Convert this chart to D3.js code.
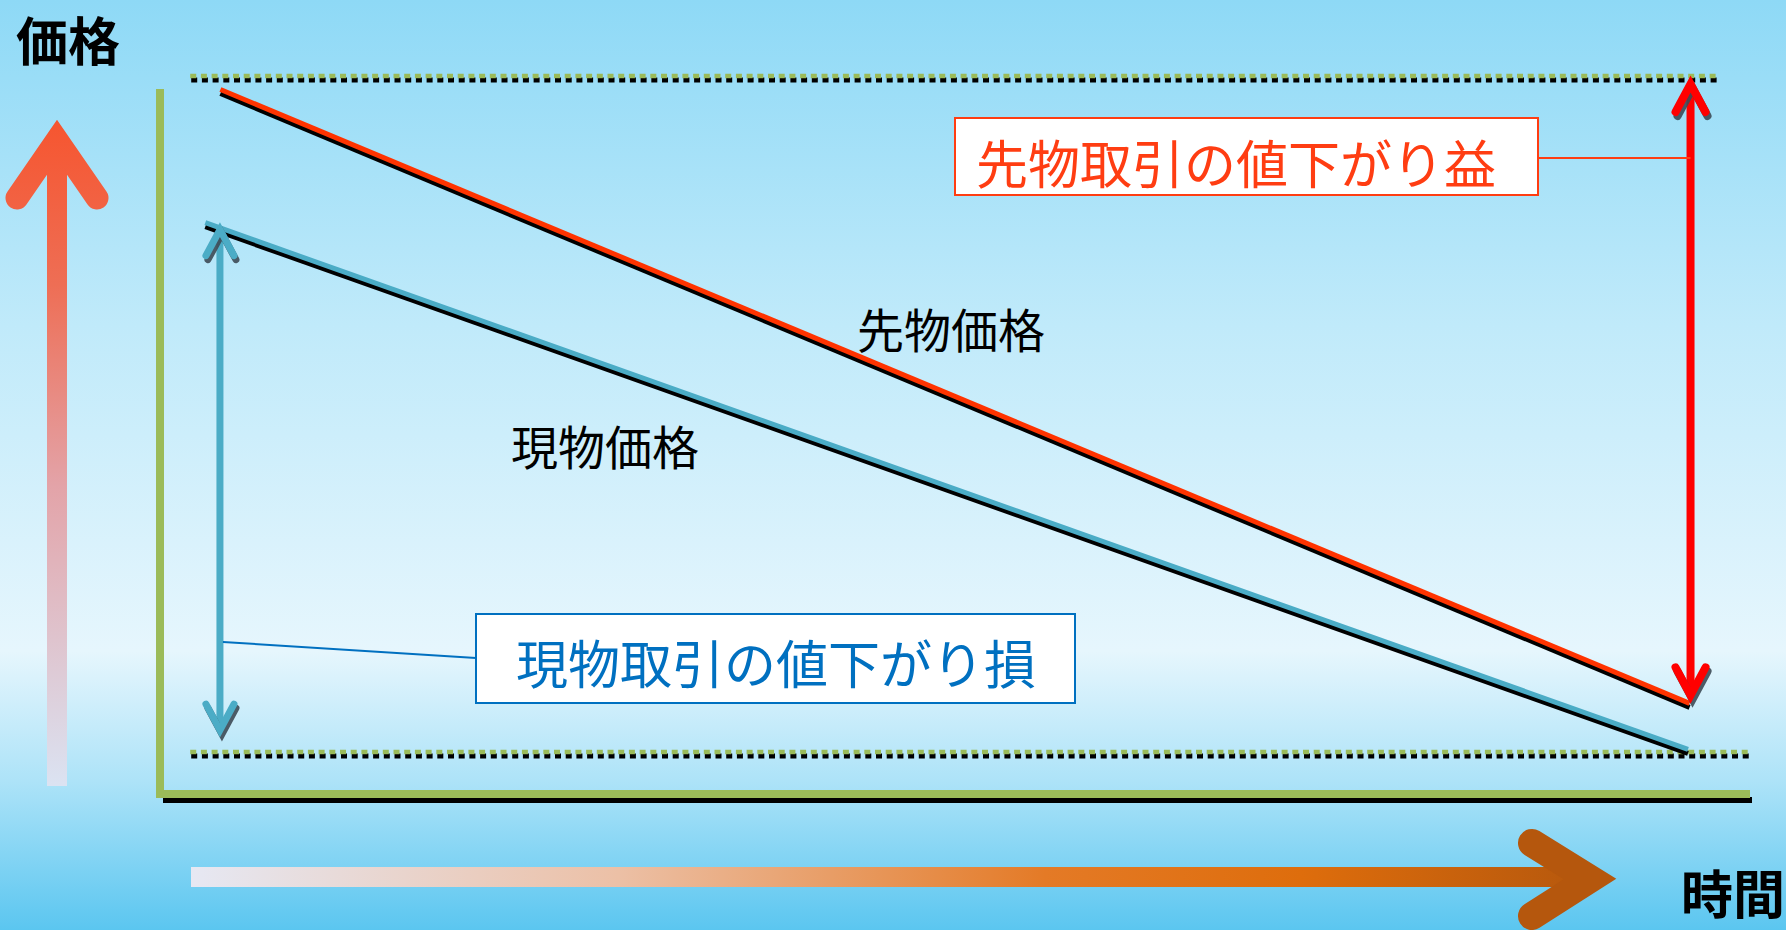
<!DOCTYPE html>
<html>
<head>
<meta charset="utf-8">
<script src="https://cdn.jsdelivr.net/npm/d3@7"></script>
<style>
  body { margin: 0; overflow: hidden; }
  svg { display: block; font-family: "Noto Sans CJK JP", "Noto Sans", sans-serif; }
</style>
</head>
<body>
<div id="chart"></div>
<script>
// time runs 0..100, price 0..100 (0 = bottom dotted level, 100 = top dotted level)
const futuresTimes = [3.8, 96.2];
const futuresPrices = [98, 7.2];
const spotTimes = [2.85, 96.1];
const spotPrices = [78.3, 0.4];

const levelPrices = [100, 0];            // dotted reference levels
const levelTimeSpans = [[1.9, 98.1], [1.9, 100]];

const gainArrowTime = 96.26;
const gainArrowSpan = [100, 7.2];        // futures gain: top level -> futures end
const lossArrowTime = 3.77;
const lossArrowSpan = [78.3, 2.2];       // spot loss: spot start -> bottom

const axisTitles = ["価格", "時間"];
const lineLabels = ["先物価格", "現物価格"];
const calloutLabels = ["先物取引の値下がり益", "現物取引の値下がり損"];

const W = 1786, H = 930;

const svg = d3.select("#chart")
  .append("svg")
    .attr("width", W)
    .attr("height", H);

const x = d3.scaleLinear().domain([0, 100]).range([160, 1750]);
const y = d3.scaleLinear().domain([0, 100]).range([752, 76]);

const defs = svg.append("defs");

// background
const bg = defs.append("linearGradient").attr("id", "bg")
  .attr("x1", 0).attr("y1", 0).attr("x2", 0).attr("y2", 1);
[[0, "#8ed9f6"], [0.35, "#c0eafa"], [0.7, "#e6f6fd"], [0.84, "#ade3f8"], [1, "#5bc6f0"]]
  .forEach(s => bg.append("stop").attr("offset", s[0]).attr("stop-color", s[1]));
svg.append("rect").attr("width", W).attr("height", H).attr("fill", "url(#bg)");

// price (vertical) arrow gradient
const vg = defs.append("linearGradient").attr("id", "vgrad")
  .attr("gradientUnits", "userSpaceOnUse")
  .attr("x1", 0).attr("y1", 118).attr("x2", 0).attr("y2", 786);
[[0, "#f6552f"], [0.25, "#ee6e55"], [0.55, "#e3a3a8"], [1, "#dbe3f2"]]
  .forEach(s => vg.append("stop").attr("offset", s[0]).attr("stop-color", s[1]));

// time (horizontal) arrow gradient
const hg = defs.append("linearGradient").attr("id", "hgrad")
  .attr("gradientUnits", "userSpaceOnUse")
  .attr("x1", 191).attr("y1", 0).attr("x2", 1615).attr("y2", 0);
[[0, "#e6e8f3"], [0.3, "#ecc0a6"], [0.6, "#e47a26"], [0.78, "#de6d0c"], [1, "#b2560d"]]
  .forEach(s => hg.append("stop").attr("offset", s[0]).attr("stop-color", s[1]));

// big decorative axis arrows
const deco = svg.append("g");
deco.append("line")
  .attr("x1", 57).attr("x2", 57).attr("y1", 786).attr("y2", 150)
  .attr("stroke", "url(#vgrad)").attr("stroke-width", 20);
deco.append("path")
  .attr("d", "M17,198 L57,140 L97,198")
  .attr("fill", "none").attr("stroke", "url(#vgrad)").attr("stroke-width", 23)
  .attr("stroke-linecap", "round").attr("stroke-linejoin", "miter");

deco.append("line")
  .attr("x1", 191).attr("x2", 1580).attr("y1", 877).attr("y2", 877)
  .attr("stroke", "url(#hgrad)").attr("stroke-width", 20);
deco.append("path")
  .attr("d", "M1532,843 L1590,879 L1532,916")
  .attr("fill", "none").attr("stroke", "#b5570d").attr("stroke-width", 28)
  .attr("stroke-linecap", "round").attr("stroke-linejoin", "miter");

// axes: green bars with black shadow
const axisG = svg.append("g");
axisG.append("line")
  .attr("x1", x(0) + 3).attr("x2", x(100) + 2)
  .attr("y1", 800).attr("y2", 800)
  .attr("stroke", "#000").attr("stroke-width", 6);
axisG.append("line")
  .attr("x1", x(0)).attr("x2", x(0)).attr("y1", 89).attr("y2", 798)
  .attr("stroke", "#9bbb59").attr("stroke-width", 8);
axisG.append("line")
  .attr("x1", x(0) - 4).attr("x2", x(100)).attr("y1", 794).attr("y2", 794)
  .attr("stroke", "#9bbb59").attr("stroke-width", 8);

// dotted reference levels
levelPrices.forEach((p, i) => {
  const [t0, t1] = levelTimeSpans[i];
  svg.append("line")
    .attr("x1", x(t0) + 1).attr("x2", x(t1) + 1)
    .attr("y1", y(p) + 4).attr("y2", y(p) + 4)
    .attr("stroke", "#000").attr("stroke-width", 5)
    .attr("stroke-dasharray", "6 4.7");
  svg.append("line")
    .attr("x1", x(t0)).attr("x2", x(t1))
    .attr("y1", y(p)).attr("y2", y(p))
    .attr("stroke", "#9bbb59").attr("stroke-width", 4.5)
    .attr("stroke-dasharray", "6 4.7");
});

// price lines with shadow
const line = d3.line().x(d => x(d[0])).y(d => y(d[1]));
function priceLine(times, prices, color) {
  const pts = d3.zip(times, prices);
  svg.append("path").datum(pts)
    .attr("d", line)
    .attr("transform", "translate(0,4)")
    .attr("fill", "none").attr("stroke", "#000").attr("stroke-width", 5);
  svg.append("path").datum(pts)
    .attr("d", line)
    .attr("fill", "none").attr("stroke", color).attr("stroke-width", 5);
}
priceLine(futuresTimes, futuresPrices, "#ff3300");
priceLine(spotTimes, spotPrices, "#4bacc6");

// double headed arrows
function chevron(g, cx, cy, dir, w, d, color, sw) {
  const s = dir === "up" ? 1 : -1;
  const p = `M${cx - w},${cy + s * d} L${cx},${cy} L${cx + w},${cy + s * d}`;
  g.append("path").attr("d", p)
    .attr("transform", "translate(2,4)")
    .attr("fill", "none").attr("stroke", "#3d4a55").attr("stroke-width", sw)
    .attr("stroke-linecap", "round").attr("stroke-opacity", 0.9);
  g.append("path").attr("d", p)
    .attr("fill", "none").attr("stroke", color).attr("stroke-width", sw)
    .attr("stroke-linecap", "round");
}
function doubleArrow(t, span, color, sw, w, d, inset) {
  const g = svg.append("g");
  const cx = x(t);
  const top = y(span[0]) + inset, bot = y(span[1]) - inset;
  g.append("line").attr("x1", cx).attr("x2", cx)
    .attr("y1", top).attr("y2", bot)
    .attr("stroke", color).attr("stroke-width", sw);
  chevron(g, cx, top, "up", w, d, color, sw);
  chevron(g, cx, bot, "down", w, d, color, sw);
}
doubleArrow(gainArrowTime, gainArrowSpan, "#ff0000", 8, 15, 28, 8);
doubleArrow(lossArrowTime, lossArrowSpan, "#4bacc6", 7, 14, 26, 7);

// callouts
function callout(box, color, label, textX, textY, conn) {
  svg.append("line")
    .attr("x1", conn[0]).attr("y1", conn[1]).attr("x2", conn[2]).attr("y2", conn[3])
    .attr("stroke", color).attr("stroke-width", 2);
  svg.append("rect")
    .attr("x", box[0]).attr("y", box[1]).attr("width", box[2]).attr("height", box[3])
    .attr("fill", "#fff").attr("stroke", color).attr("stroke-width", 2);
  svg.append("text")
    .attr("x", textX).attr("y", textY)
    .attr("text-anchor", "middle").attr("dominant-baseline", "central")
    .attr("font-size", 52).attr("fill", color)
    .text(label);
}
callout([955, 118, 583, 77], "#ff3d12", calloutLabels[0], 1236, 161,
  [1538, 158, x(gainArrowTime), 158]);
callout([476, 614, 599, 89], "#0070c0", calloutLabels[1], 776, 661,
  [x(lossArrowTime) + 3, 642, 476, 658]);

// line labels
svg.append("text").attr("x", 951).attr("y", 327)
  .attr("text-anchor", "middle").attr("dominant-baseline", "central")
  .attr("font-size", 47).attr("fill", "#000").text(lineLabels[0]);
svg.append("text").attr("x", 605).attr("y", 444)
  .attr("text-anchor", "middle").attr("dominant-baseline", "central")
  .attr("font-size", 47).attr("fill", "#000").text(lineLabels[1]);

// axis titles
svg.append("text").attr("x", 68).attr("y", 38)
  .attr("text-anchor", "middle").attr("dominant-baseline", "central")
  .attr("font-size", 52).attr("font-weight", "bold").attr("fill", "#000")
  .text(axisTitles[0]);
svg.append("text").attr("x", 1733).attr("y", 891)
  .attr("text-anchor", "middle").attr("dominant-baseline", "central")
  .attr("font-size", 52).attr("font-weight", "bold").attr("fill", "#000")
  .text(axisTitles[1]);
</script>
</body>
</html>
